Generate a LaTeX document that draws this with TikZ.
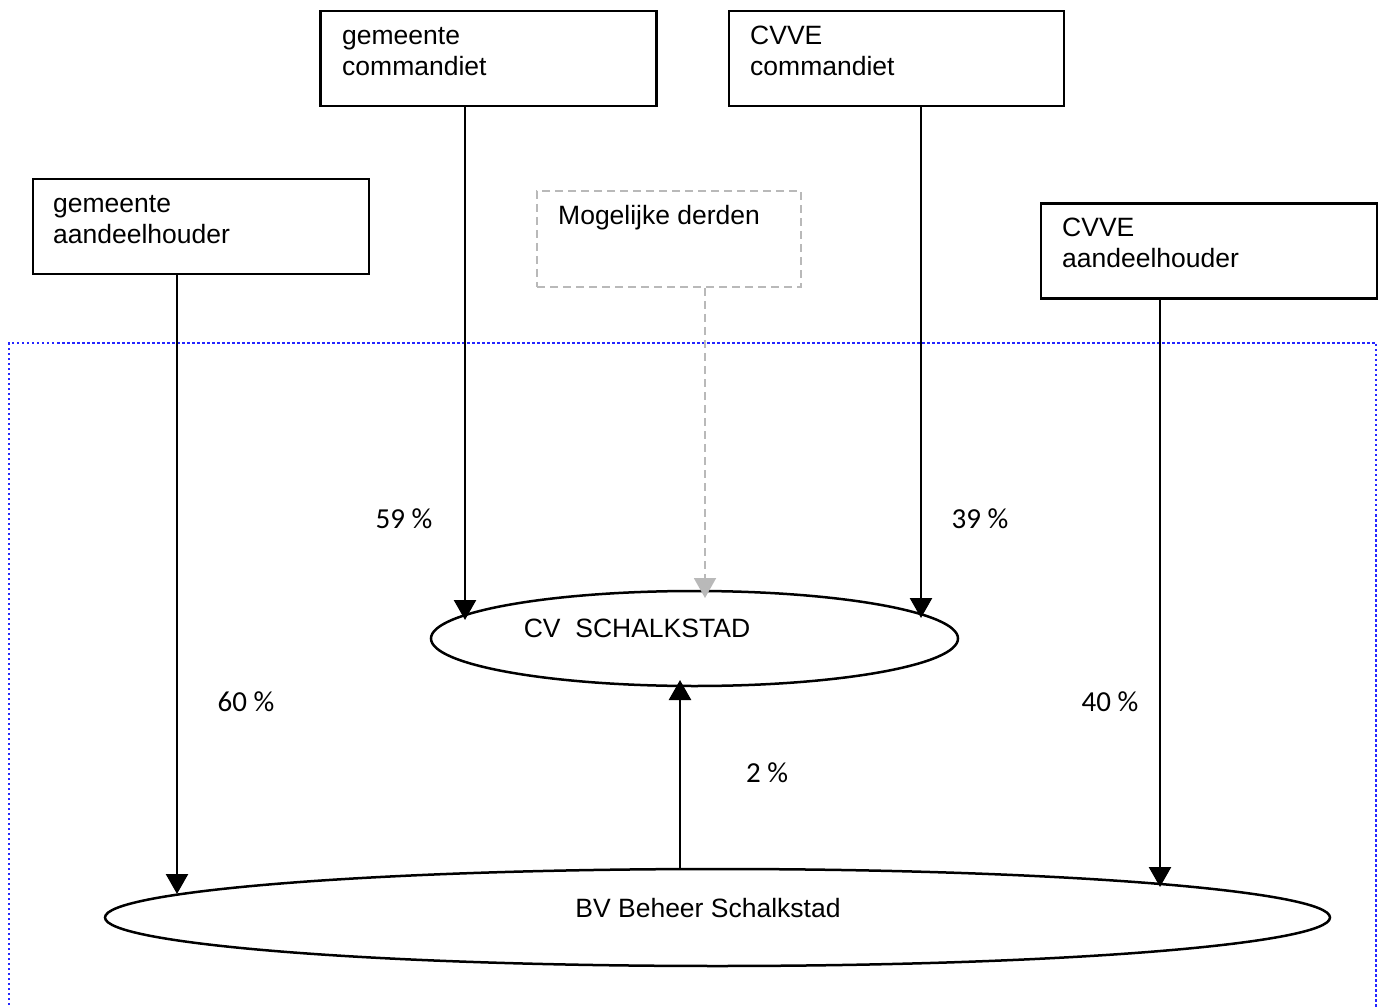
\documentclass[tikz,border=0pt]{standalone}
\usepackage{fontspec}
\setmainfont{Liberation Sans}
\newfontfamily\pctfont{Carlito}
\usetikzlibrary{arrows.meta,shapes.geometric}
\tikzset{
  box/.style={draw, line width=2.5pt, rectangle, inner sep=0pt},
  gbox/.style={draw=gray!55, line width=2pt, dash pattern=on 8pt off 5pt, rectangle, inner sep=0pt},
  ell/.style={draw, line width=2.5pt, ellipse, inner sep=0pt, outer sep=0pt},
  txt/.style={font=\fontsize{26.5}{31}\selectfont, inner sep=0pt, align=left, anchor=base west},
  ctxt/.style={font=\fontsize{26.5}{31}\selectfont, inner sep=0pt},
  pct/.style={font=\pctfont\fontsize{29}{33}\selectfont, inner sep=0pt},
  arr/.style={line width=2.5pt, -{Triangle[width=22pt,length=20pt]}},
  garr/.style={draw=gray!55, line width=2pt, dash pattern=on 8pt off 5pt, -{Triangle[width=22pt,length=20pt]}},
  border/.style={draw=blue!85, line width=2.5pt, dash pattern=on 2.5pt off 2.5pt}
}
\begin{document}
\begin{tikzpicture}[x=1pt,y=-1pt]
\useasboundingbox (0,0) rectangle (1379,1008);
\clip (0,0) rectangle (1379,1008);
% dotted frame
\draw[border] (9,1030) -- (9,343) -- (1376,343) -- (1376,1030);
% boxes
\node[box, minimum width=336pt, minimum height=95pt] (gc) at (488.5,58.5) {};
\node[box, minimum width=335pt, minimum height=95pt] (vc) at (896.5,58.5) {};
\node[box, minimum width=336pt, minimum height=95pt] (ga) at (201,226.5) {};
\node[box, minimum width=336pt, minimum height=95pt] (va) at (1209,251) {};
\node[gbox, minimum width=264pt, minimum height=96pt] (md) at (669,239) {};
% box texts (anchored at the baseline of the last line)
\node[txt] (gct) at (342,76) {gemeente\\commandiet};
\node[txt] (vct) at (750,76) {CVVE\\commandiet};
\node[txt] (gat) at (53,244) {gemeente\\aandeelhouder};
\node[txt] (vat) at (1062,268) {CVVE\\aandeelhouder};
\node[txt] (mdt) at (558,225) {Mogelijke derden};
% ellipses
\node[ell, minimum width=527pt, minimum height=95pt] (cv) at (694.5,638.5) {};
\node[ell, minimum width=1225pt, minimum height=97pt] (bv) at (717.5,917.5) {};
\node[ctxt] (cvt) at (637,628) {CV\ \ SCHALKSTAD};
\node[ctxt] (bvt) at (708,908) {BV Beheer Schalkstad};
% arrow end points on the ellipses
\coordinate (e1) at (465,620);
\coordinate (e2) at (921,618);
\coordinate (e3) at (705,598);
\coordinate (e4) at (680,680);
\coordinate (f1) at (177,894);
\coordinate (f2) at (1160,887);
\coordinate (f3) at (680,869);
% connectors
\draw[arr] (e1 |- gc.south) -- (e1);
\draw[arr] (e2 |- vc.south) -- (e2);
\draw[garr] (e3 |- md.south) -- (e3);
\draw[arr] (f1 |- ga.south) -- (f1);
\draw[arr] (f2 |- va.south) -- (f2);
\draw[arr] (f3) -- (e4);
% percentages
\node[pct] (p59) at (404,518.5) {59 \%};
\node[pct] (p39) at (980,518.5) {39 \%};
\node[pct] (p60) at (246,702) {60 \%};
\node[pct] (p40) at (1110,702) {40 \%};
\node[pct] (p2) at (767,773) {2 \%};
\end{tikzpicture}
\end{document}
